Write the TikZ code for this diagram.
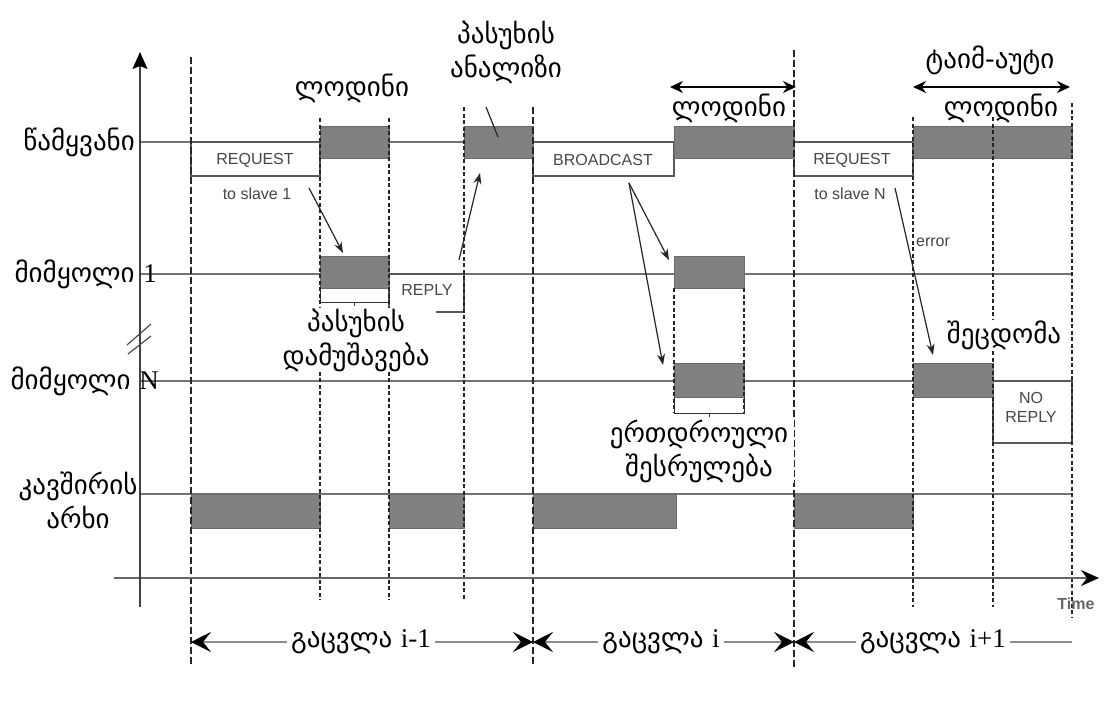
\documentclass[tikz,border=0pt]{standalone}
\usepackage{fontspec}
\newfontfamily\geofont{DejaVu Sans}
\newfontfamily\latfont{Liberation Sans}
\newfontfamily\numfont{Liberation Serif}
\usetikzlibrary{arrows.meta}

\begin{document}
\begin{tikzpicture}[x=1pt,y=-1pt,
  signal/.style={draw=black!55,line width=2.4pt},
  busy/.style={fill=black!50,draw=black!58,line width=0.8pt},
  lowbox/.style={draw=black!65,line width=1.8pt,fill=white},
  guide/.style={draw=black!85,line width=1.3pt,dash pattern=on 4pt off 2.5pt},
  bound/.style={draw=black!85,line width=1.3pt,dash pattern=on 7pt off 3pt},
  brace/.style={draw=black!80,line width=1pt},
  geo/.style={font=\geofont\fontsize{27}{34}\selectfont,align=center,inner sep=1pt},
  cover/.style={fill=white},
  tag/.style={font=\latfont\fontsize{16}{19}\selectfont,text=black!72,inner sep=1pt,align=center},
  pointer/.style={draw=black!85,line width=1.2pt,-{Stealth[length=11pt,width=8pt]}},
  waitspan/.style={draw=black,line width=1.8pt,{Stealth[length=13pt,width=12pt]}-{Stealth[length=13pt,width=12pt]}},
  period/.style={draw=black!45,line width=2.2pt},
  pboth/.style={period,{Stealth[length=20pt,width=20pt,inset=8pt,black]}-{Stealth[length=20pt,width=20pt,inset=8pt,black]}},
  pleft/.style={period,{Stealth[length=20pt,width=20pt,inset=8pt,black]}-},
]
\fill[white] (0,0) rectangle (1104,720);
\useasboundingbox (0,0) rectangle (1104,720);

% ---- signal baselines: master, slave 1, slave N, bus
\foreach \y in {142,274,381,494} \draw[signal] (140,\y) -- (1072,\y);

% ---- master line
\draw[lowbox] (191,142) rectangle (320,176);
\draw[lowbox] (533,142) rectangle (674,176);
\draw[lowbox] (794,142) rectangle (913,176);
\draw[busy] (320,126) rectangle (389,158);
\draw[busy] (464,126) rectangle (533,158);
\draw[busy] (674,126) rectangle (794,158);
\draw[busy] (913,126) rectangle (1072,158);

% ---- slave 1
\draw[lowbox] (389,274) rectangle (464,312);
\draw[busy] (320,256) rectangle (389,288);
\draw[busy] (674,256) rectangle (744,288);

% ---- slave N
\draw[lowbox] (993,381) rectangle (1072,443);
\draw[busy] (674,363) rectangle (744,397);
\draw[busy] (913,363) rectangle (993,397);

% ---- bus
\draw[busy] (191,494) rectangle (320,528);
\draw[busy] (389,494) rectangle (464,528);
\draw[busy] (533,494) rectangle (676,528);
\draw[busy] (794,494) rectangle (913,528);

% ---- brackets under the processing boxes
\draw[brace] (320,288) -- (320,302) -- (389,302) -- (389,288);
\draw[brace] (354,302) -- (354,306);
\draw[brace] (674,397) -- (674,413) -- (744,413) -- (744,397);
\draw[brace] (709,413) -- (709,417);

% ---- time guides
\foreach \x/\a/\b in {320/118/600, 389/118/600, 464/107/600,
                      913/117/607, 993/117/607, 1072/103/617,
                      674/288/413, 744/288/413}
  \draw[guide] (\x,\a) -- (\x,\b);
\foreach \x/\a/\b in {191/57/667, 533/107/667, 794/50/667}
  \draw[bound] (\x,\a) -- (\x,\b);

% ---- frame texts
\node[tag] (req1) at (255,160) {REQUEST};
\node[tag] (to1) at (257,194) {to slave 1};
\node[tag] (rep) at (427,290) {REPLY};
\node[tag] (bc) at (603,160) {BROADCAST};
\node[tag] (req2) at (852,160) {REQUEST};
\node[tag] (toN) at (850,194) {to slave N};
\node[tag] (err) at (933,242) {error};
\node[tag] (norep) at (1031,407) {NO\\REPLY};
\node[tag,font=\latfont\bfseries\fontsize{16}{19}\selectfont,text=black!60] (time) at (1076,604) {Time};

% ---- row labels
\node[geo,anchor=east] (master) at (136,142) {წამყვანი};
\node[geo,anchor=east] (slave1) at (158,274) {მიმყოლი {\numfont 1}};
\node[geo,anchor=east] (slaveN) at (160,381) {მიმყოლი {\numfont N}};
\node[geo] (bus) at (78,500) {კავშირის\\არხი};

% ---- annotations
\node[geo] (wait1) at (352,88) {ლოდინი};
\node[geo] (analysis) at (506,52) {პასუხის\\ანალიზი};
\node[geo,cover,inner xsep=7pt] (process) at (356,340) {პასუხის\\დამუშავება};
\node[geo] (wait2) at (729,108) {ლოდინი};
\node[geo] (timeout) at (990,60) {ტაიმ-აუტი};
\node[geo] (wait3) at (1001,108) {ლოდინი};
\node[geo,cover] (fault) at (1004,335) {შეცდომა};
\node[geo,cover,inner xsep=6pt] (simul) at (699,451) {ერთდროული\\შესრულება};

% ---- waiting spans
\coordinate (w2a) at (670,87); \coordinate (w2b) at (796,87);
\coordinate (w3a) at (913,87); \coordinate (w3b) at (1070,87);
\draw[waitspan] (w2a) -- (w2b);
\draw[waitspan] (w3a) -- (w3b);

% ---- message arrows
\coordinate (m1a) at (309,188); \coordinate (m1b) at (343,253);
\coordinate (r1a) at (459,260); \coordinate (r1b) at (480,173);
\coordinate (an1) at (486,107); \coordinate (an2) at (498,137);
\coordinate (bca) at (629,183); \coordinate (bc1) at (669,260); \coordinate (bcN) at (663,365);
\coordinate (eNa) at (895,188); \coordinate (eNb) at (933,355);
\draw[pointer] (m1a) -- (m1b);
\draw[pointer] (r1a) -- (r1b);
\draw[draw=black!85,line width=1.2pt] (an1) -- (an2);
\draw[pointer] (bca) -- (bc1);
\draw[pointer] (bca) -- (bcN);
\draw[pointer] (eNa) -- (eNb);

% ---- exchange periods
\coordinate (t0) at (191,642); \coordinate (t1) at (533,642);
\coordinate (t2) at (794,642); \coordinate (t3) at (1072,642);
\draw[pboth] (t0) -- (t1);
\draw[pboth] (t1) -- (t2);
\draw[pleft] (t2) -- (t3);
\node[geo,cover,inner xsep=4pt,inner ysep=0pt] (ex1) at (361,642) {გაცვლა {\numfont i-1}};
\node[geo,cover,inner xsep=4pt,inner ysep=0pt] (ex2) at (661,642) {გაცვლა {\numfont i}};
\node[geo,cover,inner xsep=4pt,inner ysep=0pt] (ex3) at (933,642) {გაცვლა {\numfont i+1}};

% ---- axes
\coordinate (vbot) at (140,607); \coordinate (vtop) at (140,52);
\coordinate (hleft) at (114,578); \coordinate (hright) at (1099,578);
\draw[line width=2pt,black!60,-{Stealth[length=18pt,width=16pt,inset=6pt,black]}] (hleft) -- (hright);
\draw[line width=1.5pt,black!75,-{Stealth[length=17pt,width=15pt,inset=3pt,black]}] (vbot) -- (vtop);
% break mark on the vertical axis
\draw[black!70,line width=1.2pt] (127,345) -- (151,324);
\draw[black!70,line width=1.2pt] (128,354) -- (151,336);
\end{tikzpicture}
\end{document}
